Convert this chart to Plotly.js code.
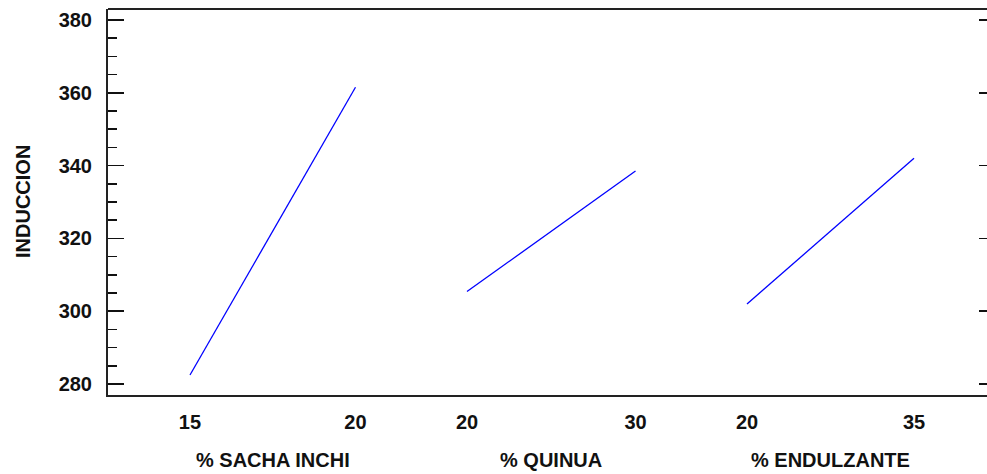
<!DOCTYPE html>
<html>
<head>
<meta charset="utf-8">
<script src="https://cdn.plot.ly/plotly-3.0.1.min.js"></script>
<style>html,body{margin:0;padding:0;background:#fff;overflow:hidden}#chart{width:987px;height:474px}</style>
</head>
<body>
<div id="chart"></div>
<script>
// Data (main effects for INDUCCION)
const factorNames = ['% SACHA INCHI', '% QUINUA', '% ENDULZANTE'];
const sachaLevels = [15, 20];
const sachaResp = [282.5, 361.5];
const quinuaLevels = [20, 30];
const quinuaResp = [305.4, 338.5];
const endulzLevels = [20, 35];
const endulzResp = [302.0, 342.0];
const yTickVals = [280, 300, 320, 340, 360, 380];
const yTitle = 'INDUCCION';

const FONT = 'Liberation Sans, Arial, Helvetica, sans-serif';
const FS = 20;
const lineStyle = {color: '#0000ff', width: 1.3};
const levelsList = [sachaLevels, quinuaLevels, endulzLevels];
const respList = [sachaResp, quinuaResp, endulzResp];
const axisIds = ['x', 'x2', 'x3'];

const traces = levelsList.map((lv, i) => ({
  x: lv, y: respList[i], xaxis: axisIds[i], yaxis: 'y',
  type: 'scatter', mode: 'lines', line: lineStyle, hoverinfo: 'skip'
}));
// invisible trace for right-side tick axis
traces.push({x: [endulzLevels[0]], y: [yTickVals[0]], xaxis: 'x3', yaxis: 'y2',
  mode: 'markers', marker: {opacity: 0}, hoverinfo: 'skip', showlegend: false});

const xRanges = [[12.523, 21.375], [16.083, 33.472], [15.239, 41.557]];
const domains = [[0, 1/3], [1/3, 2/3], [2/3, 1]];

function xAxis(i) {
  return {
    domain: domains[i], range: xRanges[i], anchor: 'y',
    tickmode: 'array', tickvals: levelsList[i], ticktext: levelsList[i].map(String),
    ticks: '', showgrid: false, zeroline: false,
    showline: true, linecolor: '#222', linewidth: 2, mirror: false,
    ticklabelstandoff: 8,
    tickfont: {family: FONT, size: FS, color: '#111', weight: 'bold'}
  };
}

const yRange = [277, 383];
const layout = {
  width: 987, height: 474,
  margin: {l: 108, r: 0, t: 9, b: 79},
  paper_bgcolor: '#fff', plot_bgcolor: '#fff',
  showlegend: false,
  xaxis: xAxis(0), xaxis2: xAxis(1), xaxis3: xAxis(2),
  yaxis: {
    range: yRange, tickmode: 'array', tickvals: yTickVals,
    ticks: 'inside', ticklen: 16, tickwidth: 1.6, tickcolor: '#111',
    minor: {dtick: 5, tick0: 280, ticks: 'inside', ticklen: 9, tickwidth: 1.6, tickcolor: '#111', showgrid: false},
    showgrid: false, zeroline: false,
    showline: true, linecolor: '#222', linewidth: 2, mirror: false,
    ticklabelstandoff: 10,
    tickfont: {family: FONT, size: FS, color: '#111', weight: 'bold'}
  },
  yaxis2: {
    range: yRange, overlaying: 'y', side: 'right', anchor: 'x3',
    tickmode: 'array', tickvals: yTickVals, showticklabels: false,
    ticks: 'inside', ticklen: 8, tickwidth: 1.6, tickcolor: '#111',
    showgrid: false, zeroline: false, showline: false
  },
  shapes: [
    {type: 'line', xref: 'paper', yref: 'paper', x0: 0, x1: 1, y0: 1, y1: 1,
     line: {color: '#222', width: 2}}
  ],
  annotations: [
    ...factorNames.map((name, i) => ({
      text: name, xref: axisIds[i], yref: 'paper',
      x: (levelsList[i][0] + levelsList[i][1]) / 2, y: -0.168,
      xanchor: 'center', yanchor: 'middle', showarrow: false,
      font: {family: FONT, size: FS, color: '#111', weight: 'bold'}
    })),
    {text: yTitle, xref: 'paper', yref: 'paper', x: -0.0967, y: 0.5,
     xanchor: 'center', yanchor: 'middle', textangle: -90, showarrow: false,
     font: {family: FONT, size: FS, color: '#111', weight: 'bold'}}
  ]
};

Plotly.newPlot('chart', traces, layout, {staticPlot: true, displayModeBar: false});
</script>
</body>
</html>
